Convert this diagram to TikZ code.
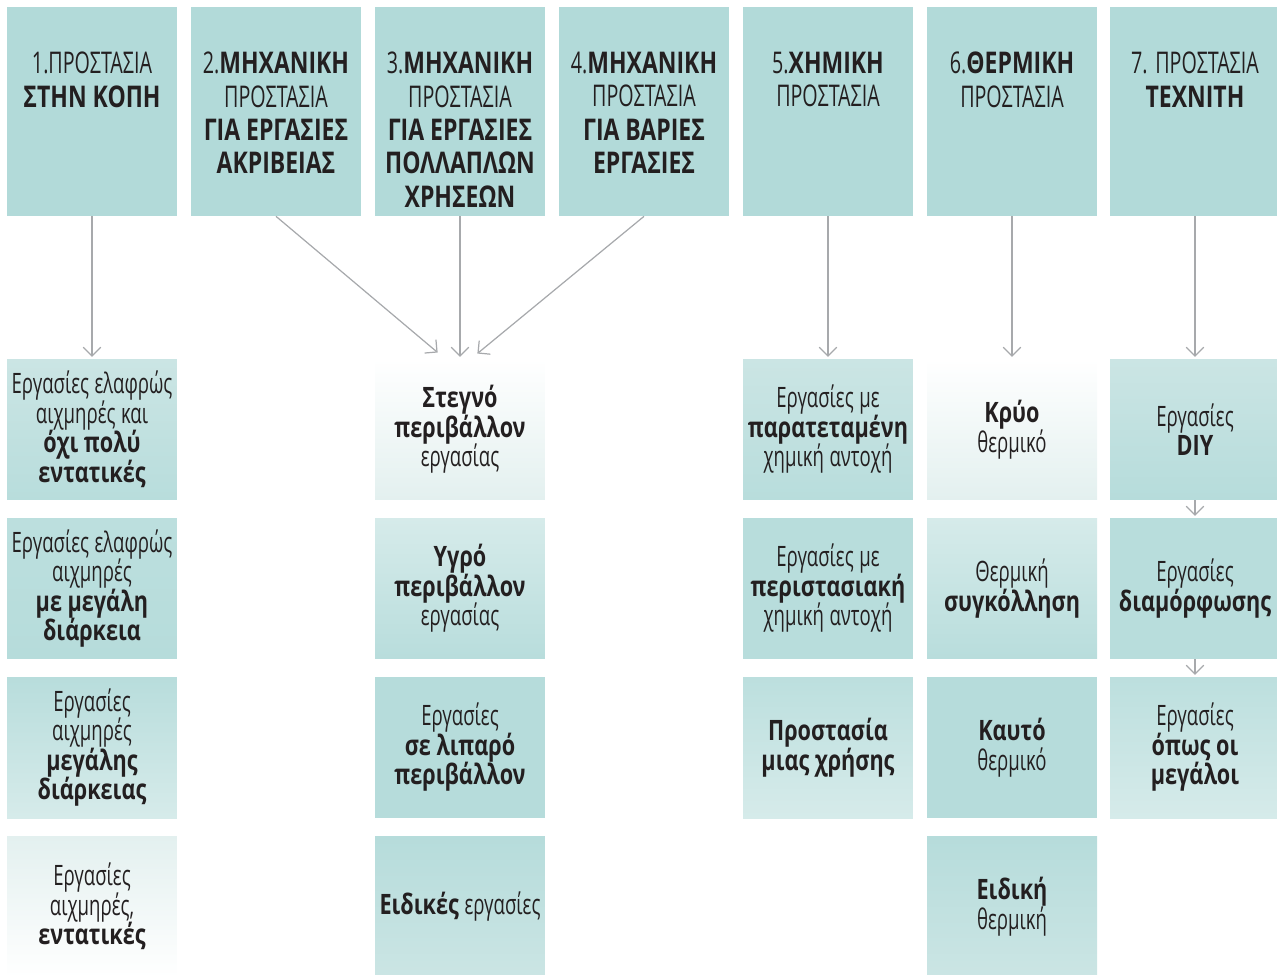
\documentclass[tikz,border=0pt]{standalone}
\usepackage{fontspec}
\setmainfont{Open Sans}[FakeStretch=0.66,BoldFeatures={FakeStretch=0.77}]
\usetikzlibrary{arrows.meta,positioning}

\definecolor{headteal}{HTML}{B2DAD9}
\definecolor{tealA}{HTML}{B6DCDB}
\definecolor{tealB}{HTML}{B8DDDC}
\definecolor{tealC}{HTML}{BCDFDE}
\definecolor{paleA}{HTML}{CBE5E4}
\definecolor{paleB}{HTML}{D6EBEA}
\definecolor{paleC}{HTML}{E3F0EF}
\definecolor{ink}{HTML}{231F20}
\definecolor{linkgray}{HTML}{A7A9AC}

\newcommand{\headfont}{\fontsize{17}{19}\selectfont\setlength{\lineskiplimit}{-20pt}\setlength{\spaceskip}{0.2em}}
\newcommand{\cellfont}{\fontsize{16}{16.8}\selectfont\setlength{\lineskiplimit}{-20pt}\setlength{\spaceskip}{0.2em}}

\tikzset{
  head/.style={fill=headteal, minimum width=3.4cm, minimum height=4.18cm, inner sep=0pt},
  headtext/.style={text width=3.4cm, align=flush center, inner sep=0pt, text=ink, font=\headfont},
  cell/.style={minimum width=3.4cm, minimum height=2.82cm, text width=3.4cm, align=flush center,
    inner sep=0pt, text=ink, font=\cellfont},
  link/.style={draw=linkgray, line width=0.7pt, -{Straight Barb[length=5pt,width=10pt]}, shorten >=1pt},
}

\begin{document}
\begin{tikzpicture}[x=0.02cm, y=-0.02cm]
    \useasboundingbox (0,0) rectangle (1277,974);

    %Headers of the seven groups
    \node[head] (h1) at (92,111.5) {};
    \node[head] (h2) at (276,111.5) {};
    \node[head] (h3) at (460,111.5) {};
    \node[head] (h4) at (644,111.5) {};
    \node[head] (h5) at (828,111.5) {};
    \node[head] (h6) at (1012,111.5) {};
    \node[head] (h7) at (1195,111.5) {};
    \node[headtext, below=0.9cm of h1.north] (h1t) {1.ΠΡΟΣΤΑΣΙΑ\\\textbf{ΣΤΗΝ ΚΟΠΗ}};
    \node[headtext, below=0.9cm of h2.north] (h2t) {2.\textbf{ΜΗΧΑΝΙΚΗ}\\ΠΡΟΣΤΑΣΙΑ\\\textbf{ΓΙΑ ΕΡΓΑΣΙΕΣ}\\\textbf{ΑΚΡΙΒΕΙΑΣ}};
    \node[headtext, below=0.9cm of h3.north] (h3t) {3.\textbf{ΜΗΧΑΝΙΚΗ}\\ΠΡΟΣΤΑΣΙΑ\\\textbf{ΓΙΑ ΕΡΓΑΣΙΕΣ}\\\textbf{ΠΟΛΛΑΠΛΩΝ}\\\textbf{ΧΡΗΣΕΩΝ}};
    \node[headtext, below=0.9cm of h4.north] (h4t) {4.\textbf{ΜΗΧΑΝΙΚΗ}\\ΠΡΟΣΤΑΣΙΑ\\\textbf{ΓΙΑ ΒΑΡΙΕΣ}\\\textbf{ΕΡΓΑΣΙΕΣ}};
    \node[headtext, below=0.9cm of h5.north] (h5t) {5.\textbf{ΧΗΜΙΚΗ}\\ΠΡΟΣΤΑΣΙΑ};
    \node[headtext, below=0.9cm of h6.north] (h6t) {6.\textbf{ΘΕΡΜΙΚΗ}\\ΠΡΟΣΤΑΣΙΑ};
    \node[headtext, below=0.9cm of h7.north] (h7t) {7. ΠΡΟΣΤΑΣΙΑ\\\textbf{ΤΕΧΝΙΤΗ}};

    %Column 1: cutting
    \node[cell, top color=paleA, bottom color=tealB] (c1r1) at (92,429.5) {Εργασίες ελαφρώς\\αιχμηρές και\\\textbf{όχι πολύ}\\\textbf{εντατικές}};
    \node[cell, top color=tealC, bottom color=tealA] (c1r2) at (92,588.5) {Εργασίες ελαφρώς\\αιχμηρές\\\textbf{με μεγάλη}\\\textbf{διάρκεια}};
    \node[cell, top color=tealB, bottom color=paleB] (c1r3) at (92,747.5) {Εργασίες\\αιχμηρές\\\textbf{μεγάλης}\\\textbf{διάρκειας}};
    \node[cell, top color=paleC, middle color=white, bottom color=white] (c1r4) at (92,906.5) {Εργασίες\\αιχμηρές,\\\textbf{εντατικές}};

    %Column 3: mechanical
    \node[cell, top color=white, middle color=white, bottom color=paleC] (c3r1) at (460,429.5) {\textbf{Στεγνό}\\\textbf{περιβάλλον}\\εργασίας};
    \node[cell, top color=paleB, bottom color=tealB] (c3r2) at (460,588.5) {\textbf{Υγρό}\\\textbf{περιβάλλον}\\εργασίας};
    \node[cell, fill=tealA] (c3r3) at (460,747.5) {Εργασίες\\\textbf{σε λιπαρό}\\\textbf{περιβάλλον}};
    \node[cell, top color=tealA, bottom color=paleA] (c3r4) at (460,906.5) {\textbf{Ειδικές} εργασίες};

    %Column 5: chemical
    \node[cell, top color=paleA, bottom color=tealB] (c5r1) at (828,429.5) {Εργασίες με\\\textbf{παρατεταμένη}\\χημική αντοχή};
    \node[cell, fill=tealB] (c5r2) at (828,588.5) {Εργασίες με\\\textbf{περιστασιακή}\\χημική αντοχή};
    \node[cell, top color=tealC, bottom color=paleB] (c5r3) at (828,747.5) {\textbf{Προστασία}\\\textbf{μιας χρήσης}};

    %Column 6: thermal
    \node[cell, top color=white, middle color=white, bottom color=paleC] (c6r1) at (1012,429.5) {\textbf{Κρύο}\\θερμικό};
    \node[cell, top color=paleB, bottom color=tealB] (c6r2) at (1012,588.5) {Θερμική\\\textbf{συγκόλληση}};
    \node[cell, fill=tealA] (c6r3) at (1012,747.5) {\textbf{Καυτό}\\θερμικό};
    \node[cell, top color=tealA, bottom color=paleA] (c6r4) at (1012,906.5) {\textbf{Ειδική}\\θερμική};

    %Column 7: craftsman
    \node[cell, top color=paleA, bottom color=tealA] (c7r1) at (1195,429.5) {Εργασίες\\\textbf{DIY}};
    \node[cell, fill=tealB] (c7r2) at (1195,588.5) {Εργασίες\\\textbf{διαμόρφωσης}};
    \node[cell, top color=tealC, bottom color=paleB] (c7r3) at (1195,747.5) {Εργασίες\\\textbf{όπως οι}\\\textbf{μεγάλοι}};

    %Arrows from the headers
    \coordinate (inL) at ([xshift=-0.42cm, yshift=0.1cm]c3r1.north);
    \coordinate (inR) at ([xshift=0.32cm, yshift=0.08cm]c3r1.north);
    \draw[link] (h1.south) -- (c1r1.north);
    \draw[link] (h2.south) -- (inL);
    \draw[link] (h3.south) -- (c3r1.north);
    \draw[link] (h4.south) -- (inR);
    \draw[link] (h5.south) -- (c5r1.north);
    \draw[link] (h6.south) -- (c6r1.north);
    \draw[link] (h7.south) -- (c7r1.north);
    \draw[link] (c7r1.south) -- (c7r2.north);
    \draw[link] (c7r2.south) -- (c7r3.north);
\end{tikzpicture}
\end{document}
